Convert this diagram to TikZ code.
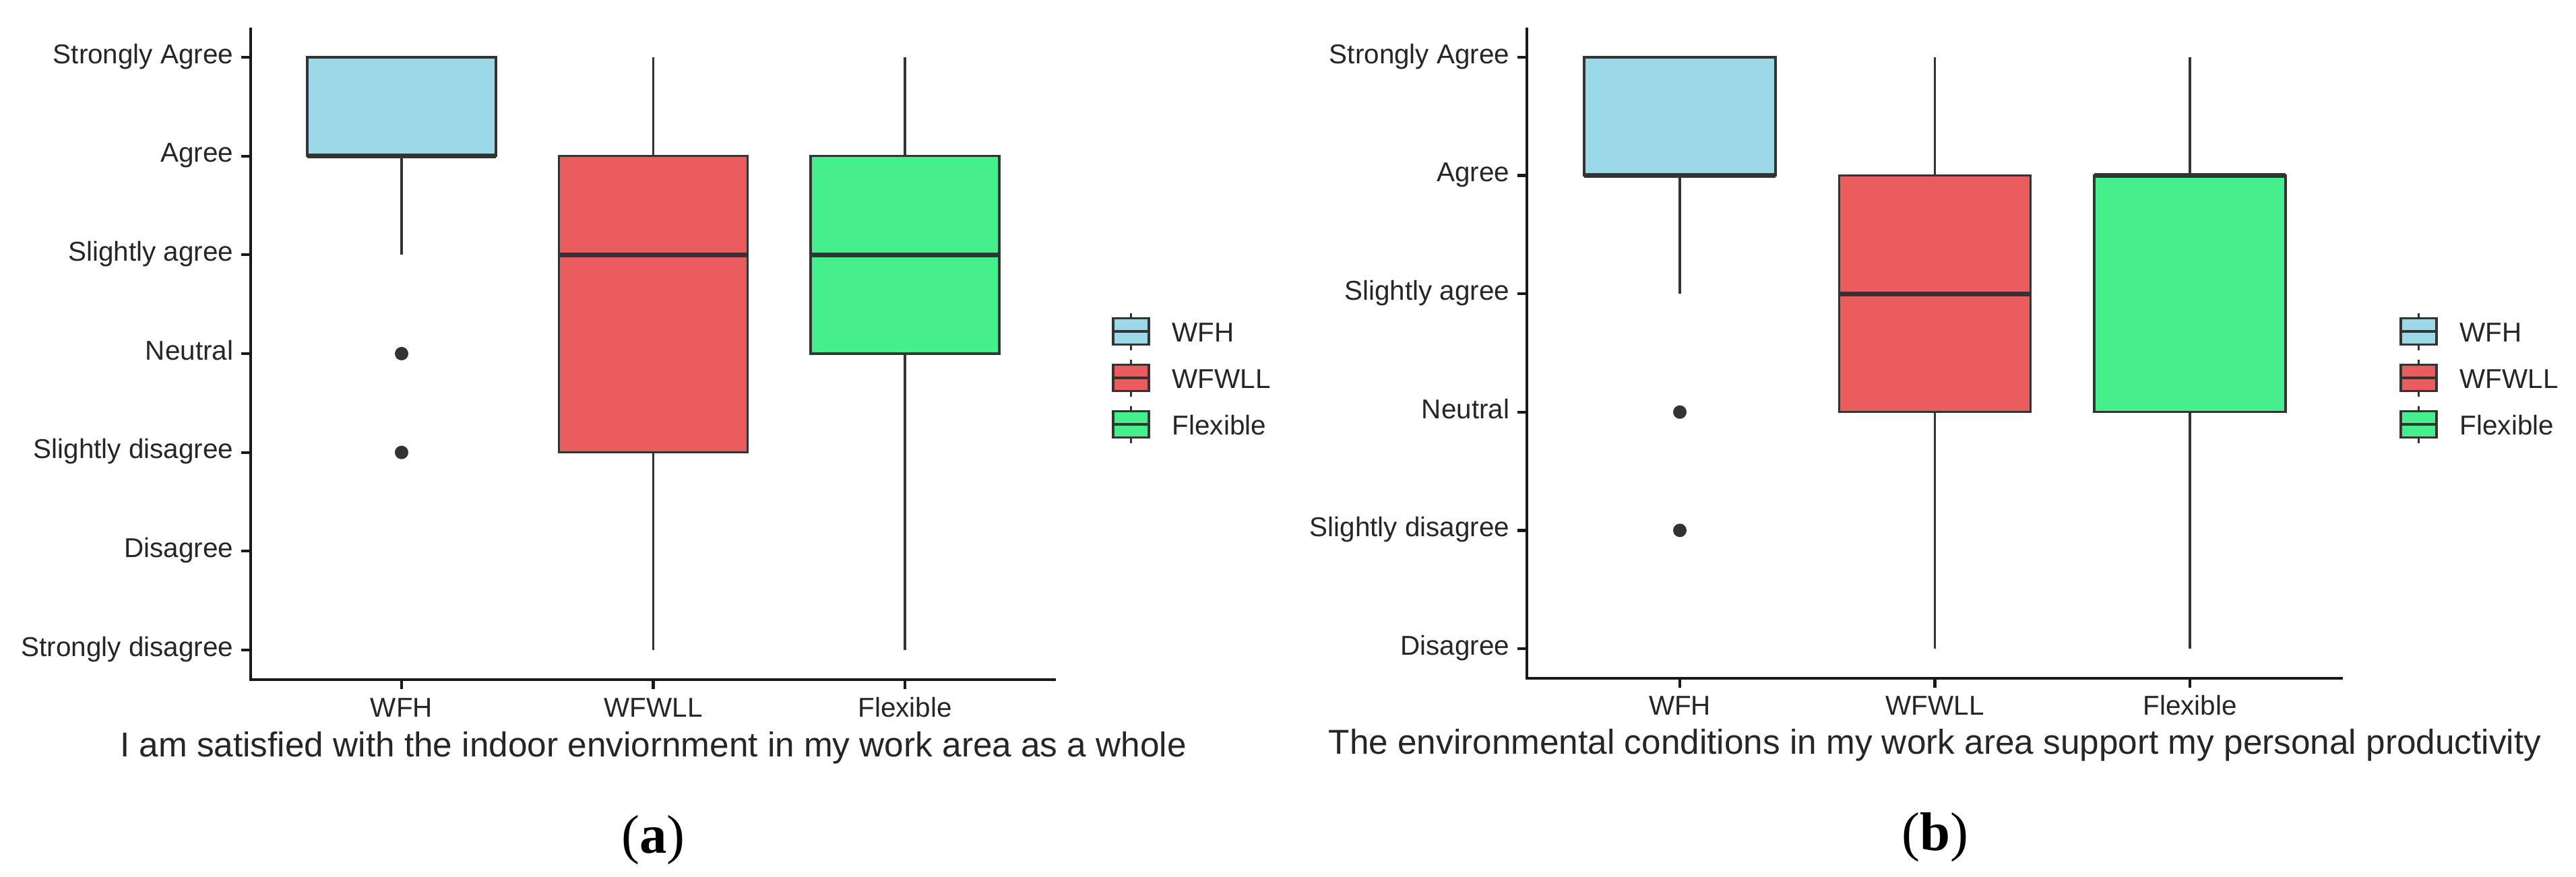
\documentclass[tikz,border=0pt]{standalone}
\usepackage{fontspec}
\setmainfont{Liberation Sans}
\newfontfamily\capfont{Liberation Serif}
\definecolor{wfh}{HTML}{9CD9E8}
\definecolor{wfwll}{HTML}{EA5C5E}
\definecolor{flex}{HTML}{45EF8B}
\definecolor{edge}{HTML}{333333}
\tikzset{
  axisline/.style={line width=1.2pt, black!90},
  whisk/.style={line width=1pt, draw=edge},
  boxframe/.style={line width=0.95pt, draw=edge},
  medline/.style={line width=1.9pt, draw=edge},
  ticklab/.style={font=\fontsize{11.5}{13}\selectfont, text=black!85, inner sep=0pt},
  axtitle/.style={font=\fontsize{14.6}{17}\selectfont, text=black!85, inner sep=0pt, anchor=base},
  panlab/.style={font=\capfont\fontsize{23}{27}\selectfont, inner sep=0pt, anchor=base},
  outlier/.style={circle, fill=edge, inner sep=0pt, minimum size=0.2cm}
}
\newcommand{\bxp}[7]{%
  \draw[whisk] (#1,#2) -- (#1,#3) (#1,#5) -- (#1,#6);
  \draw[boxframe, fill=#7] (#1-0.375,#3) rectangle (#1+0.375,#5);
  \draw[medline] (#1-0.375,#4) -- (#1+0.375,#4);
}
\newcommand{\keylist}[2]{%
  \foreach \col/\nm [count=\k] in {wfh/WFH, wfwll/WFWLL, flex/Flexible}{%
    \pgfmathsetmacro{\yk}{8.78-0.69*\k}
    \draw[whisk] (#2+0.265,\yk+0.275) -- (#2+0.265,\yk-0.275);
    \draw[boxframe, fill=\col] (#2,\yk-0.195) rectangle (#2+0.53,\yk+0.195);
    \draw[medline, line width=1.3pt] (#2,\yk) -- (#2+0.53,\yk);
    \node[ticklab, anchor=base west] (#1\k) at (#2+0.87,\yk-0.15) {\nm};
  }}

\begin{document}
\begin{tikzpicture}
    \useasboundingbox (0,0) rectangle (38.23,13.01);
    \begin{scope}[shift={(2.225cm,1.8933cm)}, x=3.735cm, y=1.4667cm]
        \draw[axisline] (0.4,7.3) -- (0.4,0.7) -- (3.6,0.7);
        \foreach \lab [count=\i] in {Strongly disagree, Disagree, Slightly disagree, Neutral, Slightly agree, Agree, Strongly Agree}{
            \draw[axisline] (0.4,\i) -- ++(-0.14cm,0);
            \node[ticklab, anchor=mid east, xshift=-0.25cm] (ya\i) at (0.4,\i) {\lab};
        }
        \foreach \grp [count=\c] in {WFH, WFWLL, Flexible}{
            \draw[axisline] (\c,0.7) -- ++(0,-0.14cm);
            \node[ticklab, anchor=base, yshift=-0.55cm] (xa\c) at (\c,0.7) {\grp};
        }
        \bxp{1}{5}{6}{6}{7}{7}{wfh}
        \bxp{2}{1}{3}{5}{6}{7}{wfwll}
        \bxp{3}{1}{4}{5}{6}{7}{flex}
        \node[outlier] (oa1) at (1,4) {};
        \node[outlier] (oa2) at (1,3) {};
        \node[axtitle, yshift=-1.14cm] (ta) at (2,0.7) {I am satisfied with the indoor enviornment in my work area as a whole};
        \node[panlab, yshift=-2.57cm] (pa) at (2,0.7) {(\textbf{a})};
    \end{scope}
    \keylist{ka}{16.52}
    \begin{scope}[shift={(21.145cm,1.624cm)}, x=3.785cm, y=1.756cm]
        \draw[axisline] (0.4,6.25) -- (0.4,0.75) -- (3.6,0.75);
        \foreach \lab [count=\i] in {Disagree, Slightly disagree, Neutral, Slightly agree, Agree, Strongly Agree}{
            \draw[axisline] (0.4,\i) -- ++(-0.14cm,0);
            \node[ticklab, anchor=mid east, xshift=-0.25cm] (yb\i) at (0.4,\i) {\lab};
        }
        \foreach \grp [count=\c] in {WFH, WFWLL, Flexible}{
            \draw[axisline] (\c,0.75) -- ++(0,-0.14cm);
            \node[ticklab, anchor=base, yshift=-0.55cm] (xb\c) at (\c,0.75) {\grp};
        }
        \bxp{1}{4}{5}{5}{6}{6}{wfh}
        \bxp{2}{1}{3}{4}{5}{6}{wfwll}
        \bxp{3}{1}{3}{5}{5}{6}{flex}
        \node[outlier] (ob1) at (1,3) {};
        \node[outlier] (ob2) at (1,2) {};
        \node[axtitle, yshift=-1.13cm] (tb) at (2,0.75) {The environmental conditions in my work area support my personal productivity};
        \node[panlab, yshift=-2.56cm] (pb) at (2,0.75) {(\textbf{b})};
    \end{scope}
    \keylist{kb}{35.63}
\end{tikzpicture}
\end{document}
